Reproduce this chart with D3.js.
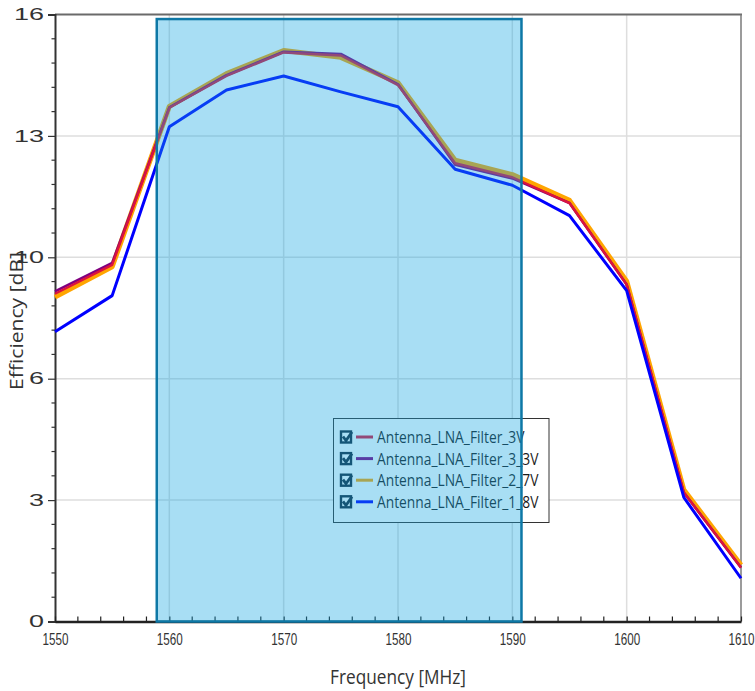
<!DOCTYPE html>
<html><head><meta charset="utf-8">
<script src="https://cdn.jsdelivr.net/npm/d3@7"></script>
<style>
html,body{margin:0;padding:0;background:#fff;}
svg{display:block;font-family:"Open Sans","Noto Sans",sans-serif;}
</style></head>
<body><svg id="chart" width="755" height="691"></svg>
<script>
// ---- data ----
const freqs = [1550,1555,1560,1565,1570,1575,1580,1585,1590,1595,1600,1605,1610];
const seriesNames = ["Antenna_LNA_Filter_3V","Antenna_LNA_Filter_3_3V","Antenna_LNA_Filter_2_7V","Antenna_LNA_Filter_1_8V"];
const v3V   = [8.64, 9.40, 13.54, 14.38, 15.00, 14.92, 14.14, 12.08, 11.71, 11.03, 8.88, 3.40, 1.42];
const v3_3V = [8.70, 9.45, 13.55, 14.40, 15.02, 14.96, 14.16, 12.04, 11.68, 11.03, 8.88, 3.40, 1.42];
const v2_7V = [8.55, 9.35, 13.58, 14.44, 15.05, 14.87, 14.20, 12.16, 11.78, 11.10, 8.97, 3.47, 1.49];
const v1_8V = [7.64, 8.59, 13.04, 14.01, 14.38, 13.96, 13.57, 11.92, 11.50, 10.70, 8.72, 3.27, 1.14];
const seriesColors = ["#dc143c","#800080","#ffa500","#0000ff"];
const yTickValues = [0, 3.2, 6.4, 9.6, 12.8, 16];
const yTickLabels = ["0","3","6","10","13","16"];
const xTickValues = [1550,1560,1570,1580,1590,1600,1610];
const band = {x0: 1558.9, x1: 1590.8, y0: 0, y1: 15.88};
const xTitle = "Frequency [MHz]";
const yTitle = "Efficiency [dB]";

// ---- layout ----
const L = 55, R = 741, T = 14.5, B = 621.5;
const svg = d3.select("#chart");
const x = d3.scaleLinear().domain([1550,1610]).range([L,R]);
const y = d3.scaleLinear().domain([0,16]).range([B,T]);

function squeeze(sel, target) {
  const first = sel.node();
  const len = first.getComputedTextLength();
  const sx = target / len;
  sel.each(function(){
    const t = d3.select(this);
    const xx = +t.attr("x") || 0;
    const prev = t.attr("transform") || "";
    t.attr("transform", prev + ` scale(${sx},1)`).attr("x", xx / sx);
  });
}

// grid
const grid = svg.append("g");
grid.selectAll("line.h").data(yTickValues.filter(v => v > 0 && v < 16)).join("line")
  .attr("x1", L).attr("x2", R).attr("y1", d => y(d)).attr("y2", d => y(d))
  .attr("stroke", "#dedede").attr("stroke-width", 1.5);
grid.selectAll("line.v").data(xTickValues.filter(v => v > 1550 && v < 1610)).join("line")
  .attr("y1", T).attr("y2", B).attr("x1", d => x(d)).attr("x2", d => x(d))
  .attr("stroke", "#dedede").attr("stroke-width", 1.5);

// frame top/right
svg.append("line").attr("x1", L).attr("x2", R + 1).attr("y1", T).attr("y2", T)
  .attr("stroke", "#6a6a6a").attr("stroke-width", 2);
svg.append("line").attr("x1", R).attr("x2", R).attr("y1", T).attr("y2", B)
  .attr("stroke", "#7a7a7a").attr("stroke-width", 1.5);

// axes
const yAxis = svg.append("g").attr("transform", `translate(${L},0)`)
  .call(d3.axisLeft(y).tickValues(yTickValues).tickFormat((d,i) => yTickLabels[i]).tickSize(7).tickPadding(4));
yAxis.select(".domain").attr("stroke", "#333").attr("stroke-width", 2);
yAxis.selectAll(".tick line").attr("stroke", "#333").attr("stroke-width", 1.2);
yAxis.selectAll("text").attr("fill", "#333").style("font-size", "16px").attr("font-family", null);
squeeze(yAxis.selectAll("text"), 15);

const yMinor = d3.range(0, 16.001, 0.64).filter(v => !yTickValues.some(t => Math.abs(t - v) < 1e-6));
svg.append("g").selectAll("line").data(yMinor).join("line")
  .attr("x1", L - 3.5).attr("x2", L).attr("y1", d => y(d)).attr("y2", d => y(d))
  .attr("stroke", "#333").attr("stroke-width", 1.2);

const xAxis = svg.append("g").attr("transform", `translate(0,${B})`)
  .call(d3.axisBottom(x).tickValues(xTickValues).tickFormat(d3.format("d")).tickSizeInner(-5).tickSizeOuter(0).tickPadding(11));
xAxis.select(".domain").attr("stroke", "#222").attr("stroke-width", 2.5);
xAxis.selectAll(".tick line").attr("stroke", "#222").attr("stroke-width", 1.2);
xAxis.selectAll("text").attr("fill", "#333").style("font-size", "17px").attr("font-family", null);
squeeze(xAxis.selectAll("text"), 26);

const xMinor = d3.range(1550, 1610.001, 2).filter(v => v % 10 !== 0);
svg.append("g").selectAll("line").data(xMinor).join("line")
  .attr("x1", d => x(d)).attr("x2", d => x(d)).attr("y1", B).attr("y2", B - 5)
  .attr("stroke", "#222").attr("stroke-width", 1.2);

// titles
const xt = svg.append("text").attr("x", 398).attr("y", 684).attr("text-anchor", "middle")
  .attr("fill", "#333").style("font-size", "20.5px").text(xTitle);
squeeze(xt, 136);
const yt = svg.append("text").attr("transform", "translate(23,321) rotate(-90)")
  .attr("x", 0).attr("y", 0).attr("text-anchor", "middle")
  .attr("fill", "#333").style("font-size", "18.5px").text(yTitle);
squeeze(yt, 138);

// lines: draw order orange, purple, red, blue
const allSeries = [v3V, v3_3V, v2_7V, v1_8V];
const widths = [2.4, 2.6, 5, 3];
const order = [2, 1, 0, 3];
const line = d3.line().x((d,i) => x(freqs[i])).y(d => y(d));
const lines = svg.append("g");
order.forEach(k => {
  lines.append("path").datum(allSeries[k]).attr("d", line)
    .attr("fill", "none").attr("stroke", seriesColors[k]).attr("stroke-width", widths[k])
    .attr("stroke-linejoin", "round");
});

// legend
const lg = svg.append("g");
lg.append("rect").attr("x", 333.5).attr("y", 418.5).attr("width", 215.5).attr("height", 104)
  .attr("fill", "#fff").attr("stroke", "#333").attr("stroke-width", 1);
seriesNames.forEach((name, i) => {
  const base = 443.3 + i * 21.6;
  const cy = base - 6.3;
  lg.append("rect").attr("x", 341).attr("y", cy - 5.5).attr("width", 10).attr("height", 11)
    .attr("fill", "#fff").attr("stroke", "#15283a").attr("stroke-width", 2.4);
  lg.append("path").attr("d", `M${343},${cy - 0.5} L${346},${cy + 3.5} L${352},${cy - 5}`)
    .attr("fill", "none").attr("stroke", "#15283a").attr("stroke-width", 2.8);
  lg.append("line").attr("x1", 356).attr("x2", 373).attr("y1", cy).attr("y2", cy)
    .attr("stroke", seriesColors[i]).attr("stroke-width", 3);
  lg.append("text").attr("class", "lgt").attr("x", 377).attr("y", base).attr("fill", "#1a1a1a")
    .style("font-size", "15.8px").text(name);
});
squeeze(lg.selectAll("text.lgt"), 147.6);

// shaded band overlay
svg.append("rect")
  .attr("x", x(band.x0)).attr("y", y(band.y1))
  .attr("width", x(band.x1) - x(band.x0)).attr("height", y(band.y0) - y(band.y1))
  .attr("fill", "rgb(20,165,225)").attr("fill-opacity", 0.37)
  .attr("stroke", "#0e78a6").attr("stroke-width", 2.5);
</script></body></html>
